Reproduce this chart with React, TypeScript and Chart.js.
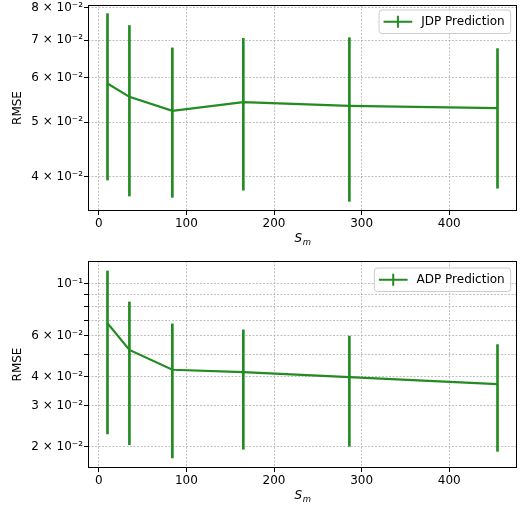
import React, { useEffect, useRef } from "react";
import { Chart, registerables } from "chart.js";

Chart.register(...registerables);

// ---- data ----
const sm = [10, 35, 84, 165, 286, 455];

const jdpMean = [0.0586, 0.0555, 0.0524, 0.0543, 0.0535, 0.053];
const jdpLow = [0.0395, 0.037, 0.0368, 0.0379, 0.0362, 0.0382];
const jdpHigh = [0.078, 0.0743, 0.0678, 0.0705, 0.0707, 0.0676];

const adpMean = [0.0678, 0.0521, 0.0428, 0.0418, 0.0398, 0.0371];
const adpLow = [0.0227, 0.0204, 0.0179, 0.0195, 0.0201, 0.0191];
const adpHigh = [0.1137, 0.0837, 0.0674, 0.0635, 0.0597, 0.0549];

const xTicks = [0, 100, 200, 300, 400];
const xLabels = ["0", "100", "200", "300", "400"];

const jdpYTicks = [0.04, 0.05, 0.06, 0.07, 0.08];
const jdpYLabels = ["4 × 10⁻²", "5 × 10⁻²", "6 × 10⁻²", "7 × 10⁻²", "8 × 10⁻²"];

const adpYTicks = [0.02, 0.03, 0.04, 0.05, 0.06, 0.07, 0.08, 0.09, 0.1];
const adpYLabels = ["2 × 10⁻²", "3 × 10⁻²", "4 × 10⁻²", "", "6 × 10⁻²", "", "", "", "10⁻¹"];

const xTitleMain = "S";
const xTitleSub = "m";

const GREEN = "#228B22";
const FONT = "'DejaVu Sans', sans-serif";

type PanelProps = {
  label: string;
  mean: number[];
  low: number[];
  high: number[];
  yTicks: number[];
  yLabels: string[];
  yMin: number;
  yMax: number;
  padTop: number;
  xAxisHeight: number;
  xTitleY: number;
  legendTop: number;
};

const framePlugin = {
  id: "frame",
  afterDraw(chart: any) {
    const { ctx, chartArea } = chart;
    ctx.save();
    ctx.strokeStyle = "#000";
    ctx.lineWidth = 1;
    ctx.strokeRect(
      Math.round(chartArea.left) + 0.5,
      Math.round(chartArea.top) + 0.5,
      Math.round(chartArea.right - chartArea.left) - 1,
      Math.round(chartArea.bottom - chartArea.top) - 1
    );
    ctx.restore();
  },
};

const xTitlePlugin = {
  id: "xTitle",
  afterDraw(chart: any, _args: any, opts: any) {
    const { ctx, chartArea } = chart;
    ctx.save();
    ctx.fillStyle = "#000";
    ctx.textBaseline = "alphabetic";
    ctx.textAlign = "left";
    ctx.font = `italic 12px ${FONT}`;
    const w1 = ctx.measureText(xTitleMain).width;
    ctx.font = `italic 8.5px ${FONT}`;
    const w2 = ctx.measureText(xTitleSub).width;
    const cx = (chartArea.left + chartArea.right) / 2;
    const x0 = cx - (w1 + w2) / 2;
    const base = opts.y;
    ctx.font = `italic 12px ${FONT}`;
    ctx.fillText(xTitleMain, x0, base);
    ctx.font = `italic 8.5px ${FONT}`;
    ctx.fillText(xTitleSub, x0 + w1 + 0.5, base + 2.5);
    ctx.restore();
  },
};

const legendPlugin = {
  id: "errLegend",
  afterDraw(chart: any, _args: any, opts: any) {
    const { ctx, chartArea } = chart;
    const text = opts.text as string;
    ctx.save();
    ctx.font = `12px ${FONT}`;
    const tw = ctx.measureText(text).width;
    const h = 23.5;
    const w = 5 + 28.7 + 9 + tw + 5.5;
    const right = chartArea.right - 6.3;
    const left = right - w;
    const top = chartArea.top + opts.top;
    const r = 3;
    ctx.beginPath();
    ctx.moveTo(left + r, top);
    ctx.lineTo(left + w - r, top);
    ctx.quadraticCurveTo(left + w, top, left + w, top + r);
    ctx.lineTo(left + w, top + h - r);
    ctx.quadraticCurveTo(left + w, top + h, left + w - r, top + h);
    ctx.lineTo(left + r, top + h);
    ctx.quadraticCurveTo(left, top + h, left, top + h - r);
    ctx.lineTo(left, top + r);
    ctx.quadraticCurveTo(left, top, left + r, top);
    ctx.closePath();
    ctx.fillStyle = "rgba(255,255,255,0.8)";
    ctx.fill();
    ctx.strokeStyle = "#cccccc";
    ctx.lineWidth = 1;
    ctx.stroke();
    const cy = top + h / 2;
    const lx0 = left + 4.5;
    const lx1 = lx0 + 28.7;
    ctx.strokeStyle = GREEN;
    ctx.lineWidth = 2;
    ctx.beginPath();
    ctx.moveTo(lx0, cy);
    ctx.lineTo(lx1, cy);
    ctx.moveTo((lx0 + lx1) / 2, cy - 6);
    ctx.lineTo((lx0 + lx1) / 2, cy + 6);
    ctx.stroke();
    ctx.fillStyle = "#000";
    ctx.textBaseline = "middle";
    ctx.textAlign = "left";
    ctx.fillText(text, lx1 + 9, cy + 0.5);
    ctx.restore();
  },
};

function Panel(p: PanelProps) {
  const ref = useRef<HTMLCanvasElement>(null);
  useEffect(() => {
    if (!ref.current) return;
    const gridCommon = {
      color: "#b0b0b0",
      lineWidth: 0.8,
      offset: false,
      tickColor: "#000",
      tickLength: 4,
      tickWidth: 1,
      tickBorderDash: [],
    };
    const borderCommon = { display: false, dash: [2, 1.5] };
    const chart = new Chart(ref.current, {
      type: "line",
      data: {
        datasets: [
          {
            type: "bar",
            label: p.label + " error",
            data: sm.map((x, i) => ({ x, y: [p.low[i], p.high[i]] })) as any,
            backgroundColor: GREEN,
            borderWidth: 0,
            barThickness: 2,
            grouped: false,
            order: 1,
          } as any,
          {
            type: "line",
            label: p.label,
            data: sm.map((x, i) => ({ x, y: p.mean[i] })),
            borderColor: GREEN,
            borderWidth: 2.2,
            pointRadius: 0,
            tension: 0,
            fill: false,
            order: 0,
          },
        ],
      },
      options: {
        animation: false,
        responsive: false,
        maintainAspectRatio: false,
        devicePixelRatio: 1,
        layout: { padding: { left: 0, right: 6, top: p.padTop, bottom: 0 } },
        plugins: {
          legend: { display: false },
          tooltip: { enabled: false },
          errLegend: { text: p.label, top: p.legendTop },
          xTitle: { y: p.xTitleY },
        } as any,
        scales: {
          x: {
            type: "linear",
            min: -12.25,
            max: 477.25,
            offset: false,
            border: borderCommon as any,
            grid: gridCommon as any,
            afterBuildTicks: (scale: any) => {
              scale.ticks = xTicks.map((v) => ({ value: v }));
            },
            afterFit: (scale: any) => {
              scale.height = p.xAxisHeight;
              scale.paddingLeft = 0;
              scale.paddingRight = 0;
            },
            ticks: {
              color: "#000",
              font: { family: FONT, size: 12 },
              padding: 2,
              maxRotation: 0,
              autoSkip: false,
              callback: (value: any) => {
                const i = xTicks.indexOf(Number(value));
                return i >= 0 ? xLabels[i] : "";
              },
            },
          },
          y: {
            type: "logarithmic",
            min: p.yMin,
            max: p.yMax,
            border: borderCommon as any,
            grid: gridCommon as any,
            afterBuildTicks: (scale: any) => {
              scale.ticks = p.yTicks.map((v) => ({ value: v }));
            },
            afterFit: (scale: any) => {
              scale.width = 88;
              scale.paddingTop = 0;
              scale.paddingBottom = 0;
            },
            ticks: {
              color: "#000",
              font: { family: FONT, size: 12 },
              padding: 1,
              autoSkip: false,
              callback: (value: any) => {
                const i = p.yTicks.findIndex((t) => Math.abs(t - Number(value)) < 1e-9);
                return i >= 0 ? p.yLabels[i] : "";
              },
            },
            title: {
              display: true,
              text: "RMSE",
              color: "#000",
              font: { family: FONT, size: 12 },
              padding: { top: 11, bottom: 0 },
            },
          },
        },
      },
      plugins: [framePlugin, legendPlugin, xTitlePlugin],
    });
    return () => chart.destroy();
  }, []);
  return <canvas ref={ref} width={523} height={253} style={{ display: "block", width: 523, height: 253 }} />;
}

export default function App() {
  return (
    <div style={{ position: "absolute", left: 0, top: 0, width: 523, height: 506, background: "#fff" }}>
      <Panel
        label="JDP Prediction"
        mean={jdpMean}
        low={jdpLow}
        high={jdpHigh}
        yTicks={jdpYTicks}
        yLabels={jdpYLabels}
        yMin={0.0348}
        yMax={0.0808}
        padTop={5}
        xAxisHeight={42}
        xTitleY={242}
        legendTop={5}
      />
      <Panel
        label="ADP Prediction"
        mean={adpMean}
        low={adpLow}
        high={adpHigh}
        yTicks={adpYTicks}
        yLabels={adpYLabels}
        yMin={0.0162}
        yMax={0.1255}
        padTop={8}
        xAxisHeight={38}
        xTitleY={246}
        legendTop={7}
      />
    </div>
  );
}
